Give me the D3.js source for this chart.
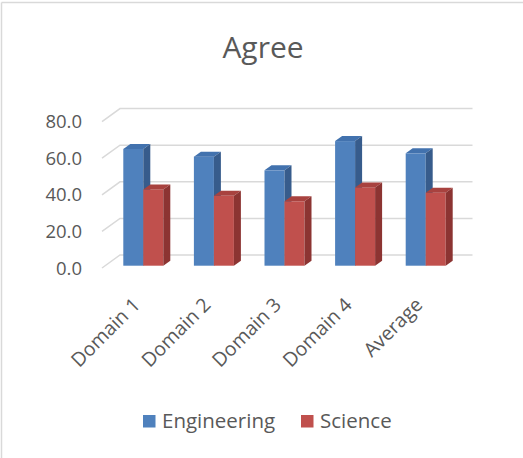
<!DOCTYPE html>
<html>
<head>
<meta charset="utf-8">
<script src="https://cdn.jsdelivr.net/npm/d3@7"></script>
<style>
  body { margin: 0; background: #fff; }
  text { font-family: "Open Sans", sans-serif; fill: #595959; }
</style>
</head>
<body>
<svg id="chart" width="523" height="458"></svg>
<script>
  // data
  var categories = ["Domain 1", "Domain 2", "Domain 3", "Domain 4", "Average"];
  var seriesNames = ["Engineering", "Science"];
  var engineering = [63.8, 59.6, 52.1, 68.1, 61.4];
  var science = [41.7, 38.2, 35.2, 42.8, 39.9];
  var yTicks = [0, 20, 40, 60, 80];

  var values = [engineering, science];
  var front = ["#4F81BD", "#C0504D"];
  var tops = ["#4272AE", "#A8423F"];
  var sides = ["#375C8C", "#8C3432"];

  var svg = d3.select("#chart");

  // chart border (only top and left visible)
  svg.append("line").attr("x1", 1.5).attr("y1", 2.5).attr("x2", 523).attr("y2", 2.5)
    .attr("stroke", "#D9D9D9").attr("stroke-width", 1.5);
  svg.append("line").attr("x1", 1.5).attr("y1", 2.5).attr("x2", 1.5).attr("y2", 458)
    .attr("stroke", "#D9D9D9").attr("stroke-width", 1.5);

  var x = d3.scaleBand().domain(categories).range([102, 455]);
  var y = d3.scaleLinear().domain([0, 80]).range([268, 121.6]);

  // depth of the back wall
  var wallDx = 18, wallDy = -13;
  var backRight = 472.5;

  // gridlines: diagonal on the side, then along the back wall
  var grid = svg.append("g");
  yTicks.forEach(function(t) {
    var yy = y(t);
    grid.append("polyline")
      .attr("points", [[102, yy], [102 + wallDx, yy + wallDy], [backRight, yy + wallDy]].join(" "))
      .attr("fill", "none").attr("stroke", "#D9D9D9").attr("stroke-width", 1.5);
  });

  // y labels
  svg.append("g").selectAll("text").data(yTicks).enter().append("text")
    .attr("x", 82).attr("y", function(d) { return y(d); })
    .attr("dy", "0.36em")
    .attr("text-anchor", "end")
    .style("font-size", "18.5px")
    .text(function(d) { return d.toFixed(1); });

  // bars
  var barW = 20, depthX = 7, depthY = -5;
  var offX = 6, offY = -2.3;
  var bars = svg.append("g");
  categories.forEach(function(c, i) {
    var cx = x(c) + x.bandwidth() / 2 + offX;
    values.forEach(function(vals, s) {
      var x0 = cx - barW + s * barW, x1 = x0 + barW;
      var base = y(0) + offY, top = y(vals[i]) + offY;
      bars.append("rect").attr("x", x0).attr("y", top).attr("width", barW).attr("height", base - top)
        .attr("fill", front[s]);
      bars.append("polygon")
        .attr("points", [[x0, top], [x0 + depthX, top + depthY], [x1 + depthX, top + depthY], [x1, top]].join(" "))
        .attr("fill", tops[s]);
      bars.append("polygon")
        .attr("points", [[x1, top], [x1 + depthX, top + depthY], [x1 + depthX, base + depthY], [x1, base]].join(" "))
        .attr("fill", sides[s]);
    });
  });

  // x labels, rotated
  svg.append("g").selectAll("text").data(categories).enter().append("text")
    .attr("transform", function(d) {
      return "translate(" + (x(d) + x.bandwidth() / 2 + 4) + ",306) rotate(-45)";
    })
    .attr("text-anchor", "end")
    .style("font-size", "19.5px")
    .text(function(d) { return d; });

  // title
  svg.append("text").attr("x", 263).attr("y", 58).attr("text-anchor", "middle")
    .style("font-size", "30px").text("Agree");

  // legend
  var legendX = [143, 301];
  seriesNames.forEach(function(n, s) {
    svg.append("rect").attr("x", legendX[s]).attr("y", 415).attr("width", 12.5).attr("height", 12.5)
      .attr("fill", front[s]);
    svg.append("text").attr("x", legendX[s] + 19).attr("y", 428)
      .style("font-size", "20.5px").text(n);
  });
</script>
</body>
</html>
